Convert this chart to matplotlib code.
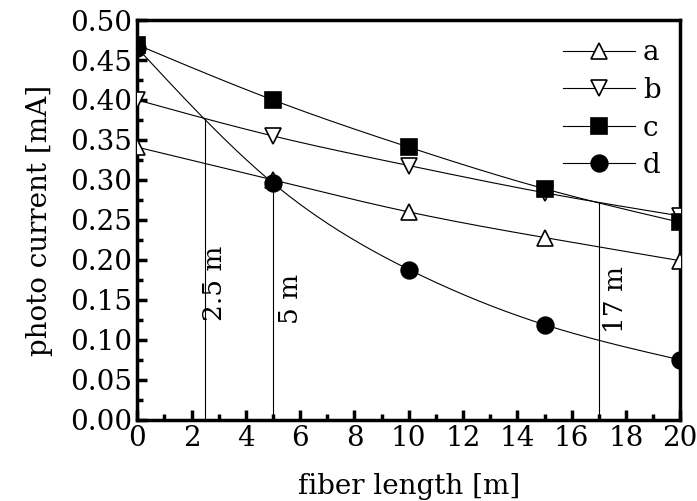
import matplotlib.pyplot as plt
import numpy as np

plt.rcParams['font.family'] = ['DejaVu Serif']
plt.rcParams['mathtext.fontset'] = 'dejavuserif'

length = [0, 5, 10, 15, 20]
cur_a = [0.341, 0.300, 0.260, 0.228, 0.199]
cur_b = [0.400, 0.355, 0.318, 0.284, 0.255]
cur_c = [0.469, 0.400, 0.341, 0.289, 0.247]
cur_d = [0.465, 0.296, 0.188, 0.119, 0.075]

marks = [2.5, 5, 17]
mark_tops = [0.376, 0.297, 0.272]
mark_labels = ["2.5 m", "5 m", "17 m"]


def natural_spline(x, y, n=200):
    """简单的自然三次样条，只用来画平滑连线。"""
    x = np.asarray(x, float)
    y = np.asarray(y, float)
    k = len(x)
    h = np.diff(x)
    A = np.zeros((k, k))
    r = np.zeros(k)
    A[0, 0] = A[-1, -1] = 1
    for i in range(1, k - 1):
        A[i, i - 1] = h[i - 1]
        A[i, i] = 2 * (h[i - 1] + h[i])
        A[i, i + 1] = h[i]
        r[i] = 6 * ((y[i + 1] - y[i]) / h[i] - (y[i] - y[i - 1]) / h[i - 1])
    m = np.linalg.solve(A, r)
    xs = np.linspace(x[0], x[-1], n)
    idx = np.clip(np.searchsorted(x, xs) - 1, 0, k - 2)
    x0, x1 = x[idx], x[idx + 1]
    hh = x1 - x0
    t0, t1 = x1 - xs, xs - x0
    ys = (m[idx] * t0 ** 3 + m[idx + 1] * t1 ** 3) / (6 * hh) \
        + (y[idx] / hh - m[idx] * hh / 6) * t0 \
        + (y[idx + 1] / hh - m[idx + 1] * hh / 6) * t1
    return xs, ys


fig = plt.figure(figsize=(6.97, 5.01), dpi=100)
ax = fig.add_axes([0.197, 0.162, 0.779, 0.798])

series = [
    (cur_a, "^", "white", "a"),
    (cur_b, "v", "white", "b"),
    (cur_c, "s", "black", "c"),
    (cur_d, "o", "black", "d"),
]
for vals, mk, fc, lab in series:
    xs, ys = natural_spline(length, vals)
    ax.plot(xs, ys, color="black", lw=0.8, zorder=2)
    ax.plot(length, vals, linestyle="none", marker=mk, markersize=12,
            markerfacecolor=fc, markeredgecolor="black", markeredgewidth=1.2, zorder=3)
    ax.plot([], [], color="black", lw=0.8, marker=mk, markersize=12,
            markerfacecolor=fc, markeredgecolor="black", markeredgewidth=1.2, label=lab)

text_x = [2.85, 5.65, 17.6]
text_y = [0.171, 0.151, 0.151]
for xm, top, lab, tx, ty in zip(marks, mark_tops, mark_labels, text_x, text_y):
    ax.plot([xm, xm], [0, top], color="black", lw=0.8, zorder=1)
    ax.text(tx, ty, lab, rotation=90, ha="center", va="center", fontsize=19)

ax.set_xlim(0, 20)
ax.set_ylim(0, 0.5)
ax.set_xticks(np.arange(0, 21, 2))
ax.set_xticks(np.arange(0, 21, 1), minor=True)
ax.set_yticks(np.arange(0, 0.51, 0.05))
ax.set_yticks(np.arange(0, 0.51, 0.025), minor=True)
ax.set_yticklabels([f"{v:.2f}" for v in np.arange(0, 0.51, 0.05)])
ax.tick_params(axis="both", which="major", direction="in", length=7, width=2.5,
               labelsize=20, pad=4)
ax.tick_params(axis="both", which="minor", direction="in", length=4, width=2.5)
for sp in ax.spines.values():
    sp.set_linewidth(2.5)

ax.set_xlabel("fiber length [m]", fontsize=20, labelpad=15)
ax.set_ylabel("photo current [mA]", fontsize=20, labelpad=12)

ax.legend(loc="upper right", frameon=False, fontsize=20, handlelength=2.6,
          handletextpad=0.3, labelspacing=0.38, borderaxespad=0.3)

fig.savefig("out.png", dpi=100)
